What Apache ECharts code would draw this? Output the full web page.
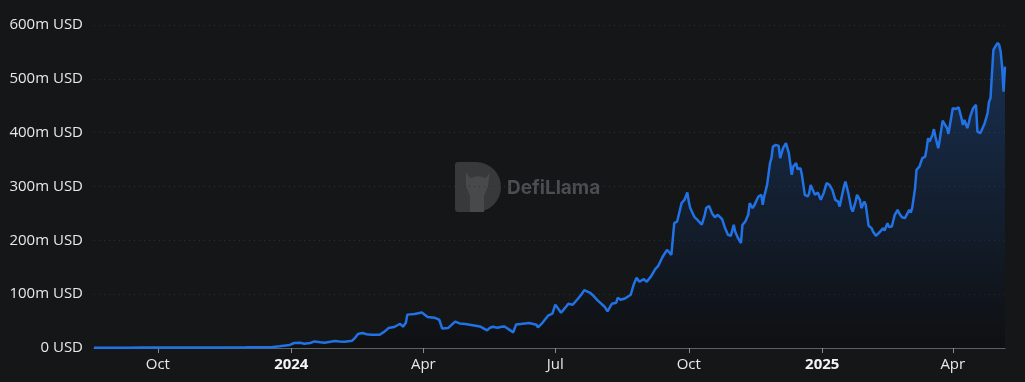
<!DOCTYPE html>
<html>
<head>
<meta charset="utf-8">
<script src="https://cdn.jsdelivr.net/npm/echarts@6/dist/echarts.min.js"></script>
<style>
html,body{margin:0;padding:0;background:#151618;}
#chart{width:1025px;height:382px;}
</style>
</head>
<body>
<div id="chart"></div>
<script>
const dates = [
'2023-08-18','2023-08-25','2023-09-01','2023-09-10','2023-09-20','2023-10-01','2023-10-15','2023-11-01','2023-11-15','2023-12-01',
'2023-12-10','2023-12-19','2023-12-21','2023-12-24','2023-12-31','2024-01-03','2024-01-07','2024-01-10','2024-01-14','2024-01-17',
'2024-01-21','2024-01-24','2024-01-28','2024-01-31','2024-02-03','2024-02-07','2024-02-12','2024-02-14','2024-02-16','2024-02-19',
'2024-02-22','2024-02-25','2024-02-28','2024-03-02','2024-03-05','2024-03-08','2024-03-12','2024-03-16','2024-03-18','2024-03-20',
'2024-03-21','2024-03-26','2024-03-31','2024-04-04','2024-04-09','2024-04-12','2024-04-14','2024-04-18','2024-04-23','2024-04-26',
'2024-04-30','2024-05-07','2024-05-10','2024-05-15','2024-05-17','2024-05-19','2024-05-22','2024-05-25','2024-05-27','2024-05-31',
'2024-06-02','2024-06-04','2024-06-07','2024-06-13','2024-06-18','2024-06-19','2024-06-22','2024-06-26','2024-06-29','2024-07-01',
'2024-07-03','2024-07-05','2024-07-08','2024-07-10','2024-07-13','2024-07-16','2024-07-19','2024-07-21','2024-07-25','2024-07-27',
'2024-07-30','2024-08-04','2024-08-06','2024-08-09','2024-08-12','2024-08-13','2024-08-15','2024-08-18','2024-08-22','2024-08-24',
'2024-08-26','2024-08-28','2024-08-31','2024-09-02','2024-09-05','2024-09-08','2024-09-10','2024-09-13','2024-09-16','2024-09-19',
'2024-09-21','2024-09-23','2024-09-26','2024-09-28','2024-09-29','2024-09-30','2024-10-01','2024-10-02','2024-10-05','2024-10-07',
'2024-10-08','2024-10-10','2024-10-12','2024-10-13','2024-10-15','2024-10-17','2024-10-19','2024-10-21','2024-10-24','2024-10-26',
'2024-10-28','2024-10-30','2024-11-01','2024-11-02','2024-11-04','2024-11-06','2024-11-07','2024-11-09','2024-11-11','2024-11-12',
'2024-11-14','2024-11-15','2024-11-18','2024-11-19','2024-11-20','2024-11-21','2024-11-22','2024-11-24','2024-11-26','2024-11-27',
'2024-11-28','2024-11-30','2024-12-02','2024-12-03','2024-12-05','2024-12-07','2024-12-08','2024-12-09','2024-12-11','2024-12-12',
'2024-12-14','2024-12-15','2024-12-17','2024-12-18','2024-12-20','2024-12-22','2024-12-23','2024-12-24','2024-12-26','2024-12-27',
'2024-12-29','2024-12-31','2025-01-01','2025-01-02','2025-01-04','2025-01-06','2025-01-08','2025-01-10','2025-01-11','2025-01-12',
'2025-01-13','2025-01-15','2025-01-16','2025-01-17','2025-01-19','2025-01-21','2025-01-22','2025-01-24','2025-01-25','2025-01-27',
'2025-01-28','2025-01-30','2025-01-31','2025-02-02','2025-02-04','2025-02-05','2025-02-07','2025-02-08','2025-02-10','2025-02-12',
'2025-02-13','2025-02-15','2025-02-16','2025-02-18','2025-02-20','2025-02-22','2025-02-23','2025-02-25','2025-02-27','2025-03-02',
'2025-03-03','2025-03-04','2025-03-06','2025-03-07','2025-03-09','2025-03-10','2025-03-11','2025-03-13','2025-03-14','2025-03-15',
'2025-03-16','2025-03-18','2025-03-19','2025-03-20','2025-03-22','2025-03-23','2025-03-25','2025-03-26','2025-03-28','2025-03-29',
'2025-03-30','2025-04-01','2025-04-03','2025-04-04','2025-04-05','2025-04-07','2025-04-08','2025-04-09','2025-04-11','2025-04-12',
'2025-04-13','2025-04-14','2025-04-15','2025-04-17','2025-04-18','2025-04-20','2025-04-21','2025-04-23','2025-04-25','2025-04-26',
'2025-04-27','2025-04-29','2025-04-30','2025-05-01','2025-05-02','2025-05-03','2025-05-04','2025-05-05','2025-05-06','2025-05-07'
];
const tvlMillions = [
0.4,0.5,0.6,0.6,0.7,0.8,0.9,1.0,1.1,1.3,
1.5,1.8,2.4,3.3,5.6,9.3,9.8,8,9.3,12.2,
10.8,9.8,11.7,13,12,11.7,13.5,19,26,27.8,
25.6,24.7,24.7,24.7,30,37,39,45,39.5,47,
62,63,66,57.5,56,52.5,36.4,37,49,45.7,
44.5,41.4,40,32.7,37.7,39.5,37.7,39.5,40,32.7,
29,43.8,44.5,46.4,43.2,38.2,46.4,60,63.7,80.4,
73,65.5,75.4,82.2,80.4,89.6,99.5,107.6,102.6,97.6,
89,76.7,68,82.2,84,93.4,89.6,92,99,117.5,
130.5,123,128,123,133,147,152.7,169.5,182.4,173,
232,235,269,275,272,288.8,272,260,243,238,
241,229,247,260,264,250.5,243,247.4,239.4,222.7,
210.3,208.4,228.8,216.4,204,195,228.8,235,247.4,269,
260,264,281.4,278.4,284.5,266,281.4,303,343.4,352.6,
374,377.3,375.5,352.6,371.2,380.5,381.6,362,321.6,337,
343.4,332.2,334,321.6,284.5,281.4,287.7,303,290.6,284.5,
288.8,275.2,278.4,287.7,306.2,303,293.8,275.2,278.4,272,
262.8,287.7,300,309.2,287.7,259.8,253.5,272,284.5,275.2,
259.8,272,266,227,222.7,216.4,208.4,210.3,216.4,222.7,
218.3,232,224.6,225.7,247.4,256.7,250.5,243,241.3,256.7,
251.7,259.8,297,331,337,340.2,352.6,355.6,371.2,389.8,
383.4,395.9,406.5,392.7,371.2,386.6,422.4,420.6,408.3,397.7,
397.7,445.4,444.1,442.3,447.3,426.9,414.4,423.7,408.3,417.6,
429.8,433,445.4,451.6,402,399,402,417.6,436.2,457.7,
464,553.6,555.5,563,566.8,563,550.6,522.6,476.2,522.6
];
const yTicks = [0, 100, 200, 300, 400, 500, 600];
const xTickDates = ['2023-10-01','2024-01-01','2024-04-01','2024-07-01','2024-10-01','2025-01-01','2025-04-01'];
const monthNames = ['Jan','Feb','Mar','Apr','May','Jun','Jul','Aug','Sep','Oct','Nov','Dec'];

function parseDay(s){ const p = s.split('-').map(Number); return Date.UTC(p[0], p[1]-1, p[2]); }

const seriesData = dates.map((d, i) => [parseDay(d), tvlMillions[i]]);
const tickValues = xTickDates.map(parseDay);

const chart = echarts.init(document.getElementById('chart'), null, {renderer: 'canvas'});
const FONT = '"Open Sans", "Noto Sans", sans-serif';

chart.setOption({
  backgroundColor: '#151618',
  animation: false,
  grid: { left: 94, right: 20, top: 25, bottom: 34, outerBoundsMode: 'none' },
  xAxis: {
    type: 'value',
    min: seriesData[0][0],
    max: seriesData[seriesData.length - 1][0],
    axisLine: { show: true, lineStyle: { color: '#5e5f62', width: 1 } },
    axisTick: { show: true, customValues: tickValues, length: 5, lineStyle: { color: '#8a8b8e' } },
    splitLine: { show: false },
    axisLabel: {
      customValues: tickValues,
      margin: 9,
      color: '#e8e8e8',
      fontSize: 15,
      fontFamily: FONT,
      formatter: function (val) {
        const d = new Date(val);
        if (d.getUTCMonth() === 0) return '{y|' + d.getUTCFullYear() + '}';
        return monthNames[d.getUTCMonth()];
      },
      rich: { y: { fontWeight: 'bold', fontSize: 15, color: '#f4f4f4', fontFamily: FONT } }
    }
  },
  yAxis: {
    type: 'value',
    min: yTicks[0],
    max: yTicks[yTicks.length - 1],
    interval: 100,
    axisLine: { show: false },
    axisTick: { show: false },
    splitLine: { show: true, lineStyle: { color: '#2d2e31', type: [1, 4], width: 1 } },
    axisLabel: {
      margin: 11,
      color: '#e8e8e8',
      fontSize: 15,
      fontFamily: FONT,
      formatter: function (v) { return v === 0 ? '0 USD' : v + 'm USD'; }
    }
  },
  graphic: [
    {
      type: 'group', silent: true, z: 0,
      children: [
        { type: 'rect', shape: { x: 455, y: 162, width: 46, height: 50, r: [3, 25, 25, 3] }, style: { fill: '#38393b' } },
        { type: 'polygon', shape: { points: [[466,172],[470,178],[478,176],[486,178],[490,172],[488,186],[484,196],[484,212],[470,212],[470,196],[466,186]] }, style: { fill: '#48494b' } },
        { type: 'text', x: 507, y: 188, style: { text: 'DefiLlama', fill: '#4c4d50', font: 'bold 19px Inter, "Open Sans", sans-serif', verticalAlign: 'middle', align: 'left' } }
      ]
    }
  ],
  series: [{
    type: 'line',
    data: seriesData,
    showSymbol: false,
    smooth: false,
    lineStyle: { color: '#2172e5', width: 2.5 },
    itemStyle: { color: '#2172e5' },
    areaStyle: {
      color: new echarts.graphic.LinearGradient(0, 0, 0, 1, [
        { offset: 0, color: 'rgba(33,114,229,0.42)' },
        { offset: 1, color: 'rgba(0,0,0,0.4)' }
      ])
    },
    z: 3
  }]
});
</script>
</body>
</html>
